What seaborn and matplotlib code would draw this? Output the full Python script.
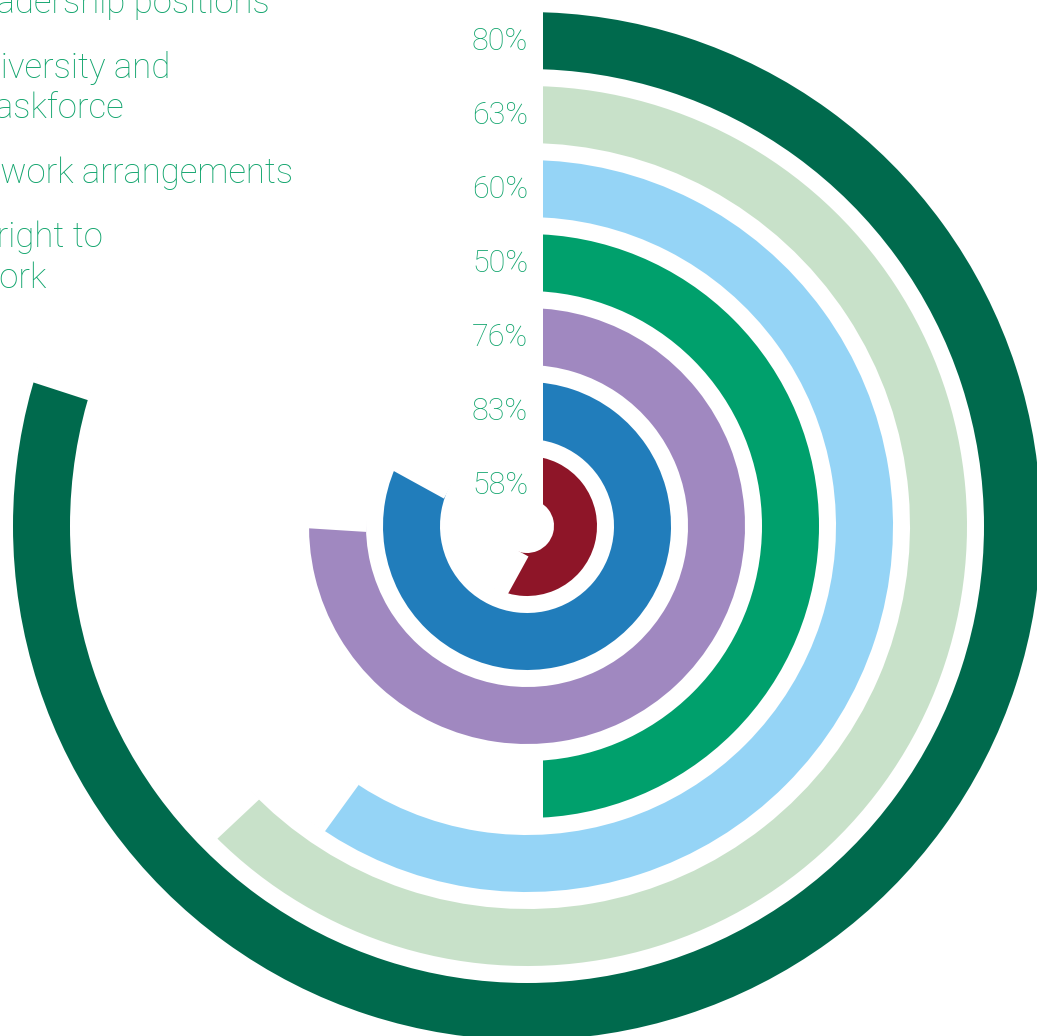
import numpy as np
import matplotlib
matplotlib.use("Agg")
import matplotlib.pyplot as plt
from matplotlib.transforms import ScaledTranslation
import seaborn as sns

# Survey results, outermost ring first
items = [
    "Women in leadership positions",
    "Diversity and inclusion taskforce",
    "Flexible work arrangements",
    "Right to disconnect from work",
    "Pay transparency",
    "Parental leave",
    "Mental health support",
]
values = [80, 63, 60, 50, 76, 83, 58]
ring_colors = ["#006a4d", "#c8e1c9", "#95d4f6", "#00a06c", "#a088c0", "#217dbb", "#8e1528"]

# Legend lines on the left margin; the start of each runs off the canvas
legend_lines = ["leadership positions", "Diversity and", "taskforce",
                "Flexible work arrangements", "The right to", "work"]
legend_shown = ["adership positions", "iversity and", "askforce",
                "work arrangements", "right to", "ork"]
legend_left_px = [-3, 1, -5, 0, -3, 0]
legend_base_px = [13, 78, 118, 183, 247, 288]

text_green = "#10a46c"

sns.set_theme(style="white")
plt.rcParams["font.family"] = ["Roboto", "DejaVu Sans"]

W, H, DPI = 1037, 1036, 100
fig = plt.figure(figsize=(W / DPI, H / DPI), dpi=DPI)
fig.patch.set_facecolor("white")

# polar axes: radius in data units equals pixels
cx, cy = 527, 526
half = 520
ax = fig.add_axes([(cx - half) / W, (H - cy - half) / H, 2 * half / W, 2 * half / H],
                  projection="polar")
ax.set_theta_zero_location("N")
ax.set_theta_direction(-1)
ax.set_ylim(0, half)
ax.axis("off")

palette = sns.color_palette(ring_colors)
outer = 514
pitch = 74
width = 57
hole = 27
cut_pt = 32 * 72 / DPI  # 16 px of white on each side of a cut
label_shift = ScaledTranslation(1 / DPI, 2 / DPI, fig.dpi_scale_trans)

for i, (v, col) in enumerate(zip(values, palette)):
    top = outer - i * pitch
    bottom = max(top - width, hole)
    theta = v / 100 * 2 * np.pi
    ax.bar(theta / 2, top - bottom, width=theta, bottom=bottom,
           color=col, edgecolor="none", align="center", zorder=2)
    # white cut at the end of the arc
    ax.plot([theta, theta], [bottom - 1, top + 1], color="white", lw=cut_pt,
            solid_capstyle="butt", zorder=3)
    ax.text(0, top - 28.5, f"{v}%", ha="right", va="center_baseline",
            fontsize=22, fontweight="light", color=text_green, zorder=6,
            transform=ax.transData + label_shift)

# white strip at the start of every arc
ax.plot([0, 0], [0, half], color="white", lw=cut_pt, solid_capstyle="butt", zorder=5)

# legend lines: place so the clipped part of each line falls left of the canvas
renderer = fig.canvas.get_renderer()
def text_width(s, **kw):
    t = fig.text(0, 0, s, **kw)
    w = t.get_window_extent(renderer).width
    t.remove()
    return w

legend_kw = dict(fontsize=25, fontweight="light", color=text_green)
for full, shown, xl, yb in zip(legend_lines, legend_shown, legend_left_px, legend_base_px):
    hidden = text_width(full, **legend_kw) - text_width(shown, **legend_kw)
    fig.text((xl - hidden) / W, 1 - yb / H, full, ha="left", va="baseline", **legend_kw)

fig.savefig("out.png", dpi=DPI, facecolor="white")
